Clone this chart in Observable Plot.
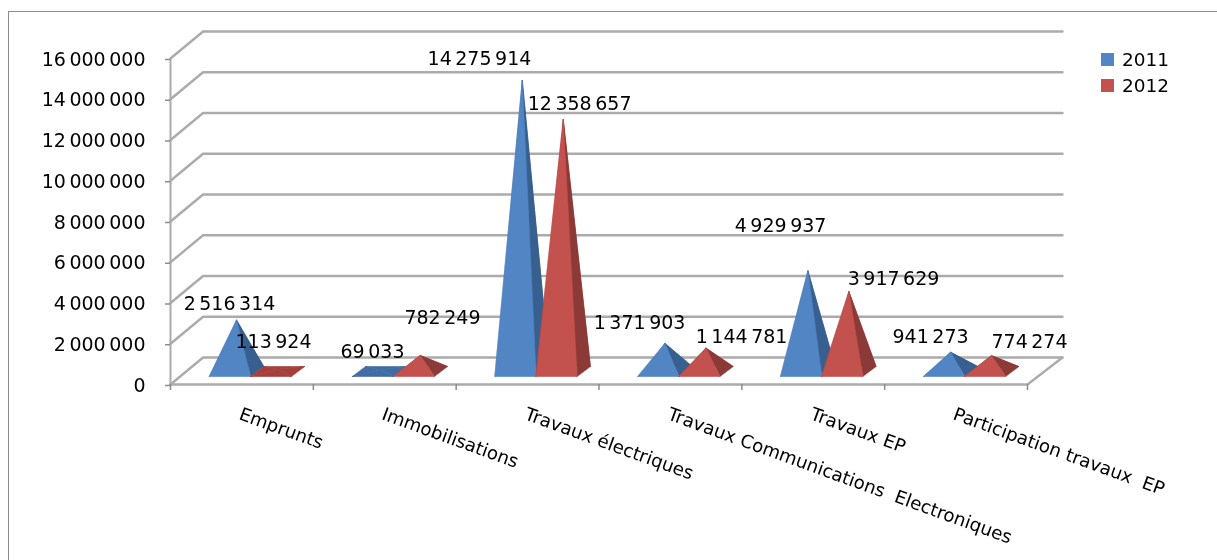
<!DOCTYPE html>
<html>
<head>
<meta charset="utf-8">
<script src="https://cdn.jsdelivr.net/npm/d3@7"></script>
<script src="https://cdn.jsdelivr.net/npm/@observablehq/plot@0.6"></script>
<style>
  html, body { margin: 0; padding: 0; background: #fff; overflow: hidden; }
  #page { position: relative; width: 1217px; height: 560px; overflow: hidden; }
  #frame { position: absolute; left: 8px; top: 11px; width: 1300px; height: 700px;
           border-left: 1.5px solid #8c8c8c; border-top: 1.5px solid #8c8c8c; }
  #chart { position: absolute; left: 0; top: 0; }
  #chart svg { filter: blur(0.45px); }
  #chart g[aria-label="y-axis tick label"] text { word-spacing: -2.5px; }
  #legend { position: absolute; left: 1101px; top: 46px; font: 18.5px "DejaVu Sans", sans-serif; color: #000; filter: blur(0.35px); }
  #legend div { display: flex; align-items: center; height: 26px; }
  #legend i { display: inline-block; width: 13px; height: 13px; margin-right: 8px; }
</style>
</head>
<body>
<div id="page">
  <div id="frame"></div>
  <div id="chart"></div>
  <div id="legend"></div>
</div>
<script>
const categories = ["Emprunts", "Immobilisations", "Travaux électriques", "Travaux Communications  Electroniques", "Travaux EP", "Participation travaux  EP"];
const years = ["2011", "2012"];
const values2011 = [2516314, 69033, 14275914, 1371903, 4929937, 941273];
const values2012 = [113924, 782249, 12358657, 1144781, 3917629, 774274];
const yTicks = [0, 2000000, 4000000, 6000000, 8000000, 10000000, 12000000, 14000000, 16000000];

// Hand-placed data label anchors, in chart units (category position, value)
const labelX2011 = [0.413, 1.414, 2.163, 3.284, 4.271, 5.321];
const labelY2011 = [3975000, 1620000, 16000000, 3040000, 7800000, 2360000];
const labelX2012 = [0.721, 1.904, 2.864, 3.998, 5.062, 6.014];
const labelY2012 = [2110000, 3290000, 13790000, 2360000, 5200000, 2110000];

const palette = {
  "2011": {front: "#5185c4", side: "#375f8f", flat: "#3f6ca3"},
  "2012": {front: "#c3514e", side: "#8c3a38", flat: "#a43f3c"}
};

// Pseudo-3D projection in chart units
const depthXLeft = 0.228, depthXRight = 0.245, depthY = 1325000; // floor depth
const baseW = 0.287, baseDX = 0.093, baseDY = 490000;            // pyramid base
const baseStart = 0.273, baseLift = 393000;                      // base front sits behind the axis line

const gridLines = [];
for (const v of yTicks) {
  gridLines.push({id: v, x: 0, y: v}, {id: v, x: depthXLeft, y: v + depthY}, {id: v, x: 6 + depthXRight, y: v + depthY});
}
const floorEdge = [{x: 0, y: 0}, {x: 6, y: 0}, {x: 6 + depthXRight, y: depthY}];

const faces = [];
function addPyramid(cat, s, value) {
  const year = years[s];
  const x0 = cat + baseStart + s * baseW, x1 = x0 + baseW;
  const y0 = baseLift, yb = y0 + baseDY;
  const FL = [x0, y0], FR = [x1, y0], BR = [x1 + baseDX, yb], BL = [x0 + baseDX, yb];
  const apex = [x0 + (baseW + baseDX) / 2, y0 + baseDY / 2 + value];
  const flat = apex[1] < yb;
  const c = palette[year];
  const tris = [
    [BL, BR, c.flat], [FL, BL, c.flat],
    [FR, BR, flat ? c.flat : c.side],
    [FL, FR, flat ? c.flat : c.front]
  ];
  tris.forEach(([a, b, color], f) => {
    const id = `${cat}-${s}-${f}`;
    for (const p of [a, b, apex]) faces.push({id, x: p[0], y: p[1], color});
  });
}
categories.forEach((_, i) => { addPyramid(i, 0, values2011[i]); addPyramid(i, 1, values2012[i]); });

const fmt = v => d3.format(",")(v).replace(/,/g, " ");
const labels = [
  ...values2011.map((v, i) => ({x: labelX2011[i], y: labelY2011[i], text: fmt(v)})),
  ...values2012.map((v, i) => ({x: labelX2012[i], y: labelY2012[i], text: fmt(v)}))
];
const catLabels = categories.map((c, i) => ({x: i + 0.5, y: 0, text: c}));

const font = '"DejaVu Sans", sans-serif';
const gridColor = "#ababab";

const plot = Plot.plot({
  width: 1217, height: 560,
  marginLeft: 170, marginRight: 190, marginTop: 58, marginBottom: 176,
  x: {type: "linear", domain: [0, 6], axis: null},
  y: {domain: [0, 16000000], axis: null},
  color: {type: "identity"},
  style: {fontFamily: font, background: "transparent", color: "#000", overflow: "visible"},
  marks: [
    Plot.line(gridLines, {x: "x", y: "y", z: "id", stroke: gridColor, strokeWidth: 2.4, curve: "linear"}),
    Plot.line(floorEdge, {x: "x", y: "y", stroke: gridColor, strokeWidth: 2.4}),
    Plot.ruleX([0], {y1: 0, y2: 16000000, stroke: gridColor, strokeWidth: 2}),
    Plot.axisY({ticks: yTicks, tickFormat: fmt, tickSize: 5, tickPadding: 20, stroke: "#8c8c8c", strokeWidth: 1.5, fontSize: 19, fill: "#000", label: null, dy: 1}),
    Plot.axisX({ticks: d3.range(0, 7), tickSize: 6, stroke: "#8c8c8c", strokeWidth: 1.5, fill: "none", label: null}),
    Plot.line(faces, {x: "x", y: "y", z: "id", fill: "color", stroke: "color", strokeWidth: 0.6, curve: "linear-closed"}),
    Plot.text(labels, {x: "x", y: "y", text: "text", fontSize: 19, fill: "#000"}),
    Plot.text(catLabels, {x: "x", y: "y", text: "text", fontSize: 18.2, fill: "#000", textAnchor: "start", rotate: 20, dy: 29, dx: -2})
  ]
});
// The value labels are the first of the two text marks; tighten their thousands gaps.
const textGroups = plot.querySelectorAll('g[aria-label="text"]');
if (textGroups.length) textGroups[0].style.wordSpacing = "-2.5px";
document.getElementById("chart").appendChild(plot);

const legend = document.getElementById("legend");
years.forEach(y => {
  const row = document.createElement("div");
  const sw = document.createElement("i");
  sw.style.background = palette[y].front;
  row.appendChild(sw);
  row.appendChild(document.createTextNode(y));
  legend.appendChild(row);
});
</script>
</body>
</html>
